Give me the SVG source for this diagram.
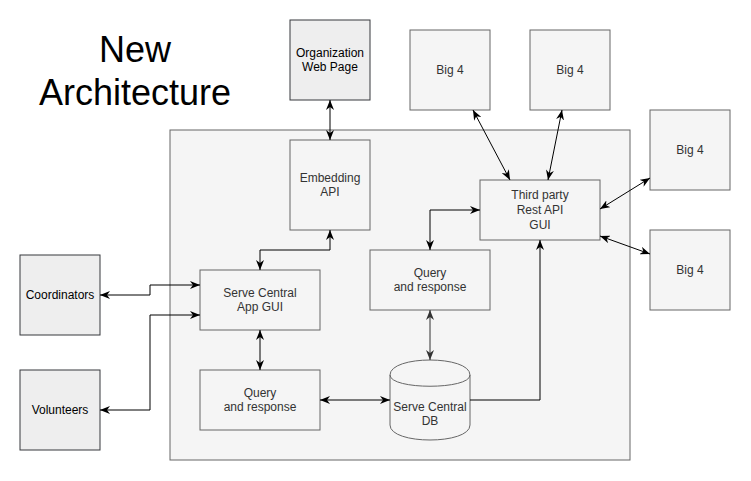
<svg xmlns="http://www.w3.org/2000/svg" width="751" height="481" viewBox="0 0 751 481">
<style>
.box{fill:#f5f5f5;stroke:#666666;stroke-width:1}
.ext{fill:#eeeeee;stroke:#36393d;stroke-width:1}
.t{font-family:"Liberation Sans",Arial,sans-serif;font-size:12px;fill:#333333;text-anchor:middle}
.tb{font-family:"Liberation Sans",Arial,sans-serif;font-size:12px;fill:#000000;text-anchor:middle}
.title{font-family:"Liberation Sans",Arial,sans-serif;font-size:36px;fill:#000000;text-anchor:middle}
.c{fill:none;stroke:#000000;stroke-width:1;marker-start:url(#arr);marker-end:url(#arr)}
.c1{fill:none;stroke:#000000;stroke-width:1;marker-end:url(#arr)}
.cg{fill:none;stroke:#333333;stroke-width:1;marker-start:url(#arrg);marker-end:url(#arrg)}
</style>
<defs>
<marker id="arr" viewBox="0 0 10 8" refX="10" refY="4" markerWidth="10" markerHeight="8" markerUnits="userSpaceOnUse" orient="auto-start-reverse">
<path d="M0,0 L10,4 L0,8 L3,4 Z" fill="#000000"/>
</marker>
<marker id="arrg" viewBox="0 0 10 8" refX="10" refY="4" markerWidth="10" markerHeight="8" markerUnits="userSpaceOnUse" orient="auto-start-reverse">
<path d="M0,0 L10,4 L0,8 L3,4 Z" fill="#333333"/>
</marker>
</defs>
<rect width="751" height="481" fill="#ffffff"/>
<text class="title" x="135" y="62">New</text>
<text class="title" x="135" y="105">Architecture</text>
<g id="container"><rect class="box" x="170" y="130" width="460" height="330"/></g>
<g id="org-web-page"><rect class="ext" x="290" y="20" width="80" height="80"/><text class="tb" x="330" y="57">Organization</text><text class="tb" x="330" y="71">Web Page</text></g>
<g id="big4-1"><rect class="box" x="410" y="30" width="80" height="80"/><text class="t" x="450" y="74">Big 4</text></g>
<g id="big4-2"><rect class="box" x="530" y="30" width="80" height="80"/><text class="t" x="570" y="74">Big 4</text></g>
<g id="big4-3"><rect class="box" x="650" y="110" width="80" height="80"/><text class="t" x="690" y="154">Big 4</text></g>
<g id="big4-4"><rect class="box" x="650" y="230" width="80" height="80"/><text class="t" x="690" y="274">Big 4</text></g>
<g id="embedding-api"><rect class="box" x="290" y="140" width="80" height="90"/><text class="t" x="330" y="182">Embedding</text><text class="t" x="330" y="196">API</text></g>
<g id="third-party"><rect class="box" x="480" y="180" width="120" height="60"/><text class="t" x="540" y="199">Third party</text><text class="t" x="540" y="214">Rest API</text><text class="t" x="540" y="229">GUI</text></g>
<g id="query-top"><rect class="box" x="370" y="250" width="120" height="60"/><text class="t" x="430" y="277">Query</text><text class="t" x="430" y="291">and response</text></g>
<g id="app-gui"><rect class="box" x="200" y="270" width="120" height="60"/><text class="t" x="260" y="297">Serve Central</text><text class="t" x="260" y="311">App GUI</text></g>
<g id="query-bottom"><rect class="box" x="200" y="370" width="120" height="60"/><text class="t" x="260" y="397">Query</text><text class="t" x="260" y="411">and response</text></g>
<g id="db"><path class="box" d="M390,375 C390,355 470,355 470,375 L470,425 C470,445 390,445 390,425 Z"/><path class="box" style="fill:none" d="M390,375 C390,390 470,390 470,375"/><text class="t" x="430" y="411">Serve Central</text><text class="t" x="430" y="425">DB</text></g>
<g id="coordinators"><rect class="ext" x="20" y="255" width="80" height="80"/><text class="tb" x="60" y="299">Coordinators</text></g>
<g id="volunteers"><rect class="ext" x="20" y="370" width="80" height="80"/><text class="tb" x="60" y="414">Volunteers</text></g>
<g id="connectors">
<path class="c" d="M330,100 L330,140"/>
<path class="c" d="M330,230 L330,250 L260,250 L260,270"/>
<path class="c" d="M100,295 L150,295 L150,285 L200,285"/>
<path class="c" d="M100,410 L150,410 L150,315 L200,315"/>
<path class="c" d="M260,330 L260,370"/>
<path class="c" d="M320,400 L390,400"/>
<path class="cg" d="M430,310 L430,360"/>
<path class="c1" d="M470,400 L540,400 L540,240"/>
<path class="c" d="M430,250 L430,210 L480,210"/>
<path class="c" d="M473,110 L510,180"/>
<path class="c" d="M562,110 L548,180"/>
<path class="c" d="M650,178 L600,209"/>
<path class="c" d="M650,254 L600,236"/>
</g>
</svg>
